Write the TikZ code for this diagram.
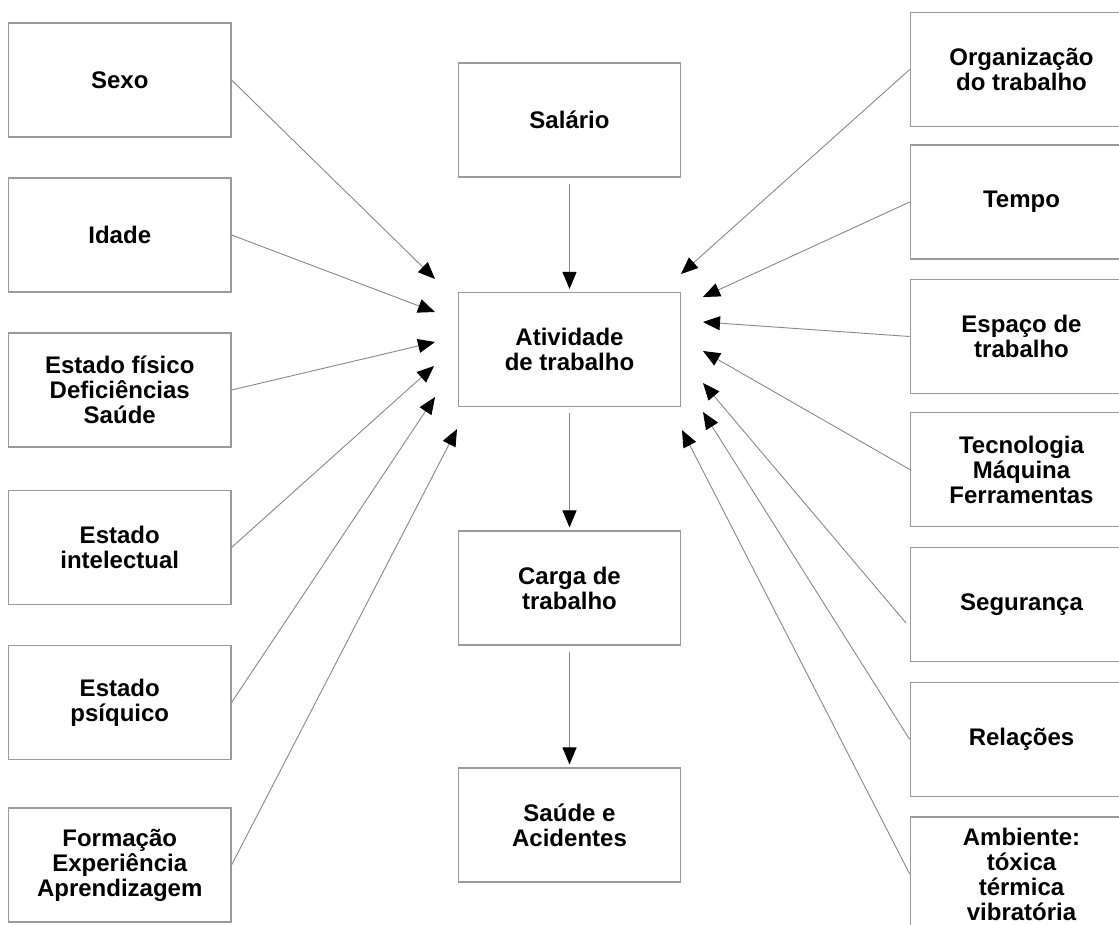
\documentclass[tikz,border=0pt]{standalone}
\usepackage{fontspec}
\setmainfont{Liberation Sans}
\usetikzlibrary{arrows.meta}
\definecolor{boxgray}{HTML}{9A9A9A}
\definecolor{linegray}{HTML}{888888}
\begin{document}
\begin{tikzpicture}[x=1pt,y=-1pt,
  box/.style={draw=boxgray,line width=1.1pt,minimum width=222.5pt,minimum height=114pt,inner sep=0pt,align=center,
    font=\fontsize{24}{25}\selectfont\bfseries},
  conn/.style={draw=linegray,line width=0.9pt,-{Triangle[length=17pt,width=14pt,color=black]}},
]
\useasboundingbox (0,0) rectangle (1119,925);
\clip (0,0) rectangle (1119,925);
\fill[white] (0,0) rectangle (1119,925);
% left column
\node[box] (sexo) at (119.75,80) {Sexo};
\node[box] (idade) at (119.75,235) {Idade};
\node[box] (fis) at (119.75,390) {Estado físico\\Deficiências\\Saúde};
\node[box] (int) at (119.75,547.5) {Estado\\intelectual};
\node[box] (psi) at (119.75,702.5) {Estado\\psíquico};
\node[box] (form) at (119.75,865) {Formação\\Experiência\\Aprendizagem};
% centre column
\node[box] (sal) at (569.5,120) {Salário};
\node[box] (ativ) at (569.5,349.5) {Atividade\\de trabalho};
\node[box] (carga) at (569.5,588) {Carga de\\trabalho};
\node[box] (saude) at (569.5,825) {Saúde e\\Acidentes};
% right column
\node[box] (org) at (1021.5,69.5) {Organização\\do trabalho};
\node[box] (tempo) at (1021.5,202) {Tempo};
\node[box] (esp) at (1021.5,336.5) {Espaço de\\trabalho};
\node[box] (tec) at (1021.5,469.5) {Tecnologia\\Máquina\\Ferramentas};
\node[box] (seg) at (1021.5,604.5) {Segurança};
\node[box] (rel) at (1021.5,739.5) {Relações};
\node[box] (amb) at (1021.5,874) {Ambiente:\\tóxica\\térmica\\vibratória};
% arrow tips around the activity box
\coordinate (tSexo) at (435,279);
\coordinate (tIdade) at (435,312);
\coordinate (tFis) at (435,342);
\coordinate (tInt) at (434,366);
\coordinate (tPsi) at (435,397);
\coordinate (tForm) at (457,429);
\coordinate (tOrg) at (681,274);
\coordinate (tTempo) at (703,297);
\coordinate (tEsp) at (703,322);
\coordinate (tTec) at (703,351);
\coordinate (tSeg) at (703,383);
\coordinate (tRel) at (703,412);
\coordinate (tAmb) at (682,430);
\coordinate (sSeg) at (906,623);
% connectors
\draw[conn] (sexo.east) -- (tSexo);
\draw[conn] (idade.east) -- (tIdade);
\draw[conn] (fis.east) -- (tFis);
\draw[conn] (int.east) -- (tInt);
\draw[conn] (psi.east) -- (tPsi);
\draw[conn] (form.east) -- (tForm);
\draw[conn] (org.west) -- (tOrg);
\draw[conn] (tempo.west) -- (tTempo);
\draw[conn] (esp.west) -- (tEsp);
\draw[conn] (tec.west) -- (tTec);
\draw[conn] (sSeg) -- (tSeg);
\draw[conn] (rel.west) -- (tRel);
\draw[conn] (amb.west) -- (tAmb);
\draw[conn,shorten <=6pt,shorten >=3pt] (sal.south) -- (ativ.north);
\draw[conn,shorten <=6pt,shorten >=3pt] (ativ.south) -- (carga.north);
\draw[conn,shorten <=6pt,shorten >=3pt] (carga.south) -- (saude.north);
\end{tikzpicture}
\end{document}
